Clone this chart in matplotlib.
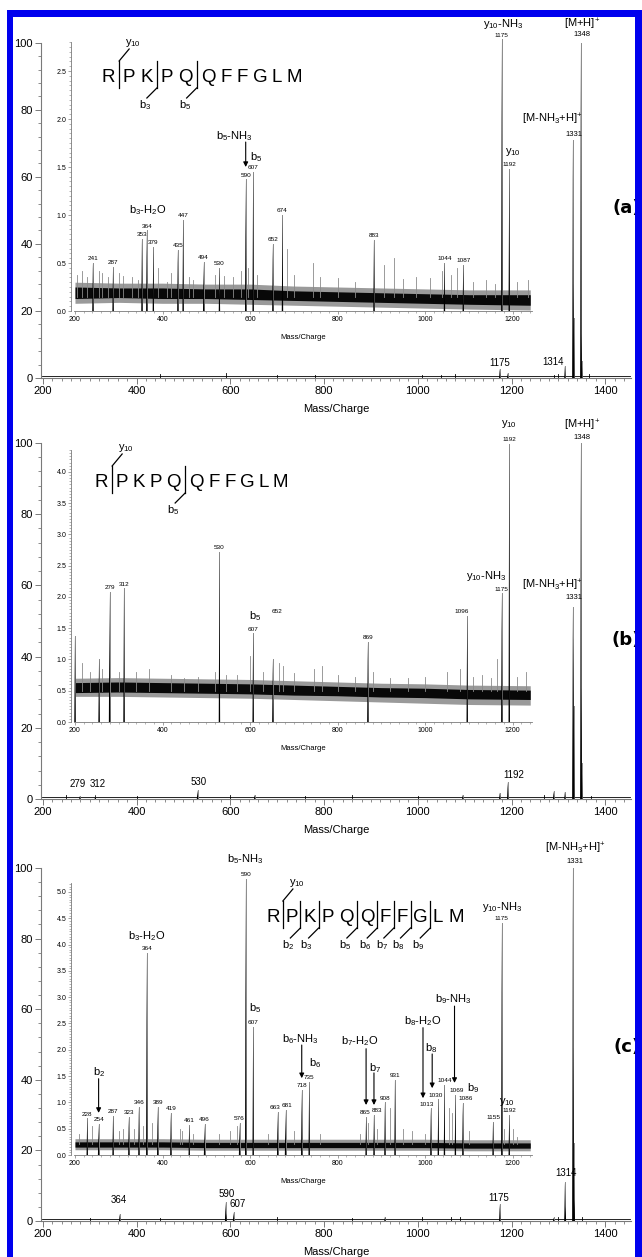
import matplotlib
matplotlib.use("Agg")
import matplotlib.pyplot as plt
from matplotlib.patches import Rectangle
from matplotlib.lines import Line2D
from matplotlib.ticker import MultipleLocator, FormatStrFormatter
from matplotlib.textpath import TextPath
from matplotlib.font_manager import FontProperties

plt.rcParams['font.family'] = ['Liberation Sans', 'DejaVu Sans']
plt.rcParams['mathtext.default'] = 'regular'

# ======================= DATA =======================
SEQUENCE = "RPKPQQFFGLM"

# ---- panel (a) ----
A_MAIN_MZ = [1175, 1192, 1314, 1331, 1332, 1333, 1348, 1349, 1350]
A_MAIN_INT = [2.8, 1.5, 3.6, 71, 28, 18, 100, 13, 5]
A_MAIN_MINOR_MZ = [450, 590, 700, 780, 1010, 1050, 1080, 1290, 1300, 1365]
A_MAIN_MINOR_INT = [1.2, 1.5, 1.0, 1.0, 0.9, 1.0, 1.1, 1.0, 1.2, 1.3]
A_INS_MZ = [241, 287, 353, 364, 379, 435, 447, 494, 530, 590, 607, 652, 674, 883, 1044, 1087, 1175, 1192]
A_INS_INT = [0.50, 0.46, 0.75, 0.84, 0.67, 0.64, 0.95, 0.51, 0.45, 1.37, 1.45, 0.70, 1.00, 0.74, 0.50, 0.48, 2.83, 1.48]
A_MINOR_MZ = [205, 215, 228, 255, 262, 275, 300, 310, 330, 345, 390, 410, 420, 460, 470, 520, 540, 560,
              580, 596, 616, 685, 700, 744, 760, 800, 840, 905, 928, 950, 980, 1010, 1039, 1060, 1073,
              1110, 1140, 1160, 1210, 1235]
A_MINOR_INT = [0.38, 0.42, 0.35, 0.42, 0.40, 0.35, 0.40, 0.36, 0.35, 0.32, 0.45, 0.30, 0.40, 0.35, 0.32,
               0.38, 0.36, 0.35, 0.42, 0.45, 0.38, 0.65, 0.38, 0.50, 0.35, 0.34, 0.30, 0.48, 0.55, 0.33,
               0.35, 0.34, 0.42, 0.38, 0.45, 0.30, 0.32, 0.28, 0.30, 0.32]
A_NOISE_MZ = [200, 300, 400, 500, 600, 700, 800, 900, 1000, 1100, 1240]
A_NOISE_LO = [0.13, 0.14, 0.13, 0.13, 0.12, 0.11, 0.10, 0.09, 0.08, 0.07, 0.06]
A_NOISE_HI = [0.25, 0.24, 0.24, 0.23, 0.23, 0.21, 0.20, 0.19, 0.18, 0.17, 0.17]
A_SPREAD_LO = [0.08, 0.09, 0.08, 0.08, 0.07, 0.06, 0.05, 0.04, 0.03, 0.02, 0.01]
A_SPREAD_HI = [0.30, 0.29, 0.29, 0.28, 0.28, 0.26, 0.25, 0.24, 0.23, 0.22, 0.22]

# ---- panel (b) ----
B_MAIN_MZ = [279, 312, 530, 652, 1096, 1175, 1192, 1290, 1314, 1331, 1332, 1333, 1348, 1349, 1350]
B_MAIN_INT = [0.8, 1.2, 2.5, 1.2, 1.2, 1.8, 4.8, 2.2, 2.0, 54, 45, 26, 100, 31, 10]
B_MAIN_MINOR_MZ = [250, 400, 600, 760, 860, 1000, 1270, 1370]
B_MAIN_MINOR_INT = [1.0, 0.9, 1.0, 0.9, 1.0, 0.9, 1.2, 0.9]
B_INS_MZ = [200, 255, 279, 312, 530, 607, 652, 869, 1096, 1175, 1192]
B_INS_INT = [1.38, 1.00, 2.08, 2.14, 2.72, 1.42, 1.00, 1.28, 1.70, 2.06, 4.45]
B_MINOR_MZ = [215, 235, 262, 300, 340, 370, 420, 450, 480, 520, 545, 570, 600, 630, 665, 675, 700,
              745, 765, 800, 840, 880, 920, 960, 1000, 1050, 1080, 1110, 1130, 1150, 1165, 1210, 1230]
B_MINOR_INT = [0.95, 0.80, 0.85, 0.80, 0.80, 0.85, 0.75, 0.70, 0.72, 0.80, 0.75, 0.75, 1.05, 0.80, 0.95,
               0.90, 0.78, 0.85, 0.90, 0.75, 0.72, 0.80, 0.70, 0.70, 0.72, 0.80, 0.85, 0.72, 0.75, 0.70,
               1.00, 0.72, 0.80]
B_NOISE_MZ = [200, 300, 400, 500, 600, 700, 800, 900, 1000, 1100, 1240]
B_NOISE_LO = [0.47, 0.48, 0.47, 0.46, 0.45, 0.43, 0.42, 0.40, 0.39, 0.37, 0.36]
B_NOISE_HI = [0.63, 0.64, 0.63, 0.62, 0.61, 0.59, 0.57, 0.55, 0.54, 0.52, 0.51]
B_SPREAD_LO = [0.41, 0.41, 0.40, 0.39, 0.38, 0.36, 0.34, 0.32, 0.30, 0.28, 0.27]
B_SPREAD_HI = [0.70, 0.71, 0.70, 0.69, 0.68, 0.66, 0.64, 0.62, 0.61, 0.59, 0.58]

# ---- panel (c) ----
C_MAIN_MZ = [364, 590, 591, 607, 930, 1175, 1290, 1314, 1315, 1331, 1332, 1333, 1334]
C_MAIN_INT = [2.0, 5.4, 2.0, 2.5, 1.2, 4.8, 1.0, 11, 4, 100, 49, 22, 6]
C_MAIN_MINOR_MZ = [300, 450, 700, 860, 1010, 1070, 1090, 1300, 1350]
C_MAIN_MINOR_INT = [0.9, 0.9, 1.0, 0.9, 1.0, 1.2, 1.0, 1.1, 1.0]
C_INS_MZ = [228, 254, 287, 323, 346, 364, 389, 419, 461, 496, 576, 590, 607, 663, 681, 718, 735,
            865, 883, 908, 931, 1013, 1030, 1044, 1069, 1086, 1155, 1175, 1192]
C_INS_INT = [0.70, 0.59, 0.74, 0.72, 0.91, 3.84, 0.92, 0.80, 0.57, 0.59, 0.61, 5.25, 2.43, 0.82, 0.86,
             1.24, 1.39, 0.72, 0.76, 1.00, 1.43, 0.89, 1.06, 1.33, 1.14, 0.99, 0.63, 4.41, 0.76]
C_MINOR_MZ = [210, 240, 300, 310, 335, 355, 375, 440, 445, 470, 530, 555, 570, 640, 700, 760, 850,
              870, 890, 920, 950, 970, 1000, 1055, 1062, 1100, 1180, 1200, 1210]
C_MINOR_INT = [0.40, 0.55, 0.45, 0.50, 0.50, 0.55, 0.60, 0.50, 0.45, 0.40, 0.40, 0.45, 0.55, 0.40, 0.45,
               0.40, 0.40, 0.60, 0.50, 0.90, 0.50, 0.45, 0.40, 0.90, 0.80, 0.45, 0.50, 0.50, 0.35]
C_NOISE_MZ = [200, 300, 400, 500, 600, 700, 800, 900, 1000, 1100, 1240]
C_NOISE_LO = [0.15, 0.15, 0.15, 0.14, 0.14, 0.14, 0.14, 0.14, 0.14, 0.13, 0.13]
C_NOISE_HI = [0.25, 0.25, 0.25, 0.24, 0.24, 0.24, 0.24, 0.24, 0.24, 0.23, 0.23]
C_SPREAD_LO = [0.10, 0.10, 0.10, 0.09, 0.09, 0.09, 0.09, 0.09, 0.09, 0.08, 0.08]
C_SPREAD_HI = [0.31, 0.31, 0.31, 0.30, 0.30, 0.30, 0.30, 0.30, 0.30, 0.29, 0.29]

# ======================= LAYOUT (pixels) =======================
W, H = 642, 1257
fig = plt.figure(figsize=(W / 100, H / 100), dpi=100)
fig.patch.set_facecolor('white')

PEAK_GREY = '#8a8a8a'
AXIS_GREY = '#7a7a7a'


def fx(x):
    return x / W


def fy(y):
    return 1 - y / H


def px_axes(left, top, right, bottom):
    return fig.add_axes([left / W, 1 - bottom / H, (right - left) / W, (bottom - top) / H])


def setup_main(ax):
    ax.set_xlim(196, 1455)
    ax.set_ylim(0, 100)
    ax.patch.set_alpha(0)
    for s in ['top', 'right']:
        ax.spines[s].set_visible(False)
    for s in ['left', 'bottom']:
        ax.spines[s].set_color(AXIS_GREY)
        ax.spines[s].set_linewidth(0.8)
    ax.xaxis.set_major_locator(MultipleLocator(200))
    ax.xaxis.set_minor_locator(MultipleLocator(20))
    ax.yaxis.set_major_locator(MultipleLocator(20))
    ax.yaxis.set_minor_locator(MultipleLocator(4))
    ax.tick_params(which='major', length=4.5, width=0.7, color=AXIS_GREY, labelsize=8, pad=1.5)
    ax.tick_params(which='minor', length=2.5, width=0.6, color=AXIS_GREY)
    ax.set_xlabel('Mass/Charge', fontsize=8, labelpad=5.5)


def setup_inset(ax, ytop):
    ax.set_xlim(198, 1244)
    ax.set_ylim(0, ytop)
    ax.patch.set_alpha(0)
    for s in ['top', 'right']:
        ax.spines[s].set_visible(False)
    for s in ['left', 'bottom']:
        ax.spines[s].set_color(AXIS_GREY)
        ax.spines[s].set_linewidth(0.6)
    ax.spines['left'].set_position(('outward', 2.2))
    ax.xaxis.set_major_locator(MultipleLocator(200))
    ax.xaxis.set_minor_locator(MultipleLocator(20))
    ax.yaxis.set_major_locator(MultipleLocator(0.5))
    ax.yaxis.set_minor_locator(MultipleLocator(0.05))
    ax.yaxis.set_major_formatter(FormatStrFormatter('%.1f'))
    ax.tick_params(which='major', length=2.5, width=0.5, color=AXIS_GREY, labelsize=5, pad=1)
    ax.tick_params(which='minor', length=1.3, width=0.4, color=AXIS_GREY)
    ax.set_xlabel('Mass/Charge', fontsize=5.5, labelpad=8)


def draw_peaks(ax, mz, inten, w):
    for m, v in zip(mz, inten):
        ax.add_line(Line2D([m, m], [0, v], color=PEAK_GREY, lw=0.7, clip_on=False, zorder=3))
        ax.fill([m - w, m, m + w], [0, v, 0], color='black', lw=0, zorder=3.1, clip_on=False)


def draw_minor(ax, mz, inten, base):
    for m, v in zip(mz, inten):
        ax.add_line(Line2D([m, m], [base, v], color=PEAK_GREY, lw=0.6, zorder=2))


def draw_noise(ax, mz, lo, hi, slo, shi):
    ax.fill_between(mz, slo, shi, color='#9a9a9a', lw=0, zorder=1.5)
    ax.fill_between(mz, lo, hi, color='#080808', lw=0, zorder=1.8)


def num_labels(ax, mz, inten, size=4.6, skip=(), xshift=None):
    xshift = xshift or {}
    for m, v in zip(mz, inten):
        if m in skip:
            continue
        ax.annotate(str(m), (m + xshift.get(m, 0), v), xytext=(0, 1.2), textcoords='offset points',
                    ha='center', va='bottom', fontsize=size, zorder=5, annotation_clip=False)


def ion(ax, text, x, y, size=8, ha='center'):
    ax.text(x, y, text, ha=ha, va='center', fontsize=size, zorder=6, clip_on=False)


def arrow(ax, x, y0, y1):
    ax.annotate('', xy=(x, y1), xytext=(x, y0),
                arrowprops=dict(arrowstyle='-|>', color='black', lw=0.8, mutation_scale=7,
                                shrinkA=0, shrinkB=0), annotation_clip=False, zorder=6)


SEQ_FONT = FontProperties(family='Liberation Sans')


def ink_width(ch, size_pt):
    return TextPath((0, 0), ch, size=size_pt * 100 / 72, prop=SEQ_FONT).get_extents().width


def draw_sequence(x_start, yc, cuts, gap, bar_gap, size=13.5):
    cut_after = {idx: (kind, lab) for kind, idx, lab in cuts}
    cap = size * 100 / 72 * 0.716
    top, bot = yc - 14, yc + 13
    x = x_start
    for i, ch in enumerate(SEQUENCE):
        w = ink_width(ch, size)
        fig.text(fx(x + w / 2), fy(yc + cap / 2), ch, ha='center', va='baseline', fontsize=size,
                 family='Liberation Sans')
        step = bar_gap if (i + 1) in cut_after else gap
        if (i + 1) in cut_after:
            kind, lab = cut_after[i + 1]
            xb = x + w + step / 2
            fig.add_artist(Line2D([fx(xb), fx(xb)], [fy(top), fy(bot)], color='black', lw=0.9))
            if kind == 'y':
                fig.add_artist(Line2D([fx(xb), fx(xb + 10)], [fy(top), fy(top - 12)], color='black', lw=0.9))
                fig.text(fx(xb + 14), fy(top - 18), lab, ha='center', va='center', fontsize=8)
            else:
                fig.add_artist(Line2D([fx(xb), fx(xb - 10)], [fy(bot), fy(bot + 10)], color='black', lw=0.9))
                fig.text(fx(xb - 12), fy(bot + 17), lab, ha='center', va='center', fontsize=8)
        x += w + step


def main_baseline(ax, mz, inten):
    ax.plot([198, 1452], [0.6, 0.6], color='black', lw=0.6, zorder=2)
    for m, v in zip(mz, inten):
        ax.add_line(Line2D([m, m], [0, v], color='black', lw=0.6, zorder=2))


# ---------------- panel (a) ----------------
axA = px_axes(41, 42.7, 631, 378)
setup_main(axA)
main_baseline(axA, A_MAIN_MINOR_MZ, A_MAIN_MINOR_INT)
draw_peaks(axA, A_MAIN_MZ, A_MAIN_INT, 1.5)
axA.text(1175, 4.5, '1175', ha='center', va='center', fontsize=7)
axA.text(1312, 4.8, '1314', ha='right', va='center', fontsize=7)
ion(axA, '[M+H]$^{+}$', 1350, 105.5)
axA.text(1350, 102.3, '1348', ha='center', va='center', fontsize=5.5, clip_on=False)
ion(axA, '[M-NH$_{3}$+H]$^{+}$', 1352, 77, ha='right')
axA.text(1352, 72.5, '1331', ha='right', va='center', fontsize=5.5)

insA = px_axes(74.1, 42.2, 532, 311)
setup_inset(insA, 2.8)
draw_noise(insA, A_NOISE_MZ, A_NOISE_LO, A_NOISE_HI, A_SPREAD_LO, A_SPREAD_HI)
draw_minor(insA, A_MINOR_MZ, A_MINOR_INT, 0.15)
draw_peaks(insA, A_INS_MZ, A_INS_INT, 1.6)
num_labels(insA, A_INS_MZ, A_INS_INT)
ion(insA, 'b$_{3}$-H$_{2}$O', 367, 1.05)
ion(insA, 'b$_{5}$-NH$_{3}$', 565, 1.82)
arrow(insA, 590, 1.76, 1.50)
ion(insA, 'b$_{5}$', 613, 1.60)
ion(insA, 'y$_{10}$', 1200, 1.66)
ion(insA, 'y$_{10}$-NH$_{3}$', 1178, 2.99)
draw_sequence(103, 75, [('y', 1, 'y$_{10}$'), ('b', 3, 'b$_{3}$'), ('b', 5, 'b$_{5}$')],
              gap=7, bar_gap=10)
fig.text(fx(641), fy(208), '(a)', ha='right', va='center', fontsize=13, fontweight='bold',
         family='DejaVu Sans')

# ---------------- panel (b) ----------------
axB = px_axes(41, 443, 631, 799)
setup_main(axB)
main_baseline(axB, B_MAIN_MINOR_MZ, B_MAIN_MINOR_INT)
draw_peaks(axB, B_MAIN_MZ, B_MAIN_INT, 1.5)
for t, x, y in [('279', 275, 4.2), ('312', 317, 4.2), ('530', 532, 4.9), ('1192', 1205, 6.7)]:
    axB.text(x, y, t, ha='center', va='center', fontsize=7)
ion(axB, '[M+H]$^{+}$', 1350, 105)
axB.text(1350, 101.6, '1348', ha='center', va='center', fontsize=5.5, clip_on=False)
ion(axB, '[M-NH$_{3}$+H]$^{+}$', 1352, 60, ha='right')
axB.text(1352, 56.7, '1331', ha='right', va='center', fontsize=5.5)

insB = px_axes(74.1, 450, 532, 722)
setup_inset(insB, 4.35)
draw_noise(insB, B_NOISE_MZ, B_NOISE_LO, B_NOISE_HI, B_SPREAD_LO, B_SPREAD_HI)
draw_minor(insB, B_MINOR_MZ, B_MINOR_INT, 0.5)
draw_peaks(insB, B_INS_MZ, B_INS_INT, 1.6)
num_labels(insB, B_INS_MZ, B_INS_INT, skip=(200, 255, 652), xshift={1096: -12})
insB.text(662, 1.76, '652', ha='center', va='center', fontsize=4.6)
ion(insB, 'b$_{5}$', 611, 1.70)
ion(insB, 'y$_{10}$', 1192, 4.77)
ion(insB, 'y$_{10}$-NH$_{3}$', 1185, 2.34, ha='right')
draw_sequence(96, 480, [('y', 1, 'y$_{10}$'), ('b', 5, 'b$_{5}$')], gap=6.5, bar_gap=10)
fig.text(fx(641), fy(640), '(b)', ha='right', va='center', fontsize=13, fontweight='bold',
         family='DejaVu Sans')

# ---------------- panel (c) ----------------
axC = px_axes(41, 868, 631, 1221)
setup_main(axC)
main_baseline(axC, C_MAIN_MINOR_MZ, C_MAIN_MINOR_INT)
draw_peaks(axC, C_MAIN_MZ, C_MAIN_INT, 1.5)
for t, x, y in [('364', 362, 6.0), ('590', 593, 7.6), ('607', 615, 4.8), ('1175', 1173, 6.4),
                ('1314', 1317, 13.6)]:
    axC.text(x, y, t, ha='center', va='center', fontsize=7)
ion(axC, '[M-NH$_{3}$+H]$^{+}$', 1336, 105.7)
axC.text(1336, 101.7, '1331', ha='center', va='center', fontsize=5.5, clip_on=False)

insC = px_axes(74.1, 883, 532, 1155)
setup_inset(insC, 5.17)
draw_noise(insC, C_NOISE_MZ, C_NOISE_LO, C_NOISE_HI, C_SPREAD_LO, C_SPREAD_HI)
draw_minor(insC, C_MINOR_MZ, C_MINOR_INT, 0.2)
draw_peaks(insC, C_INS_MZ, C_INS_INT, 1.6)
num_labels(insC, C_INS_MZ, C_INS_INT,
           xshift={1013: -10, 1030: -6, 663: -6, 681: 4, 865: -3, 883: 6, 1069: 2, 1086: 6})
for t, x, y in [('b$_{5}$-NH$_{3}$', 590, 5.62), ('b$_{3}$-H$_{2}$O', 364, 4.16), ('b$_{5}$', 611, 2.80),
                ('b$_{6}$-NH$_{3}$', 716, 2.20), ('b$_{6}$', 748, 1.74), ('b$_{7}$-H$_{2}$O', 850, 2.16),
                ('b$_{7}$', 885, 1.66), ('b$_{8}$-H$_{2}$O', 995, 2.54), ('b$_{8}$', 1014, 2.04),
                ('b$_{9}$-NH$_{3}$', 1065, 2.96), ('b$_{9}$', 1110, 1.28), ('y$_{10}$', 1187, 1.01),
                ('y$_{10}$-NH$_{3}$', 1175, 4.72), ('b$_{2}$', 254, 1.57)]:
    ion(insC, t, x, y)
for x, y0, y1 in [(254, 1.45, 0.80), (718, 2.09, 1.46), (865, 2.02, 0.95), (883, 1.56, 0.95),
                  (995, 2.42, 1.08), (1016, 1.92, 1.27), (1067, 2.83, 1.37)]:
    arrow(insC, x, y0, y1)
draw_sequence(268, 915,
              [('y', 1, 'y$_{10}$'), ('b', 2, 'b$_{2}$'), ('b', 3, 'b$_{3}$'), ('b', 5, 'b$_{5}$'),
               ('b', 6, 'b$_{6}$'), ('b', 7, 'b$_{7}$'), ('b', 8, 'b$_{8}$'), ('b', 9, 'b$_{9}$')],
              gap=8, bar_gap=7.5)
fig.text(fx(641), fy(1047), '(c)', ha='right', va='center', fontsize=13, fontweight='bold',
         family='DejaVu Sans')

# ---------------- blue frame ----------------
BLUE = '#0000ee'
for (x0, y0, x1, y1) in [(7, 10, 642, 16.5), (7, 10, 12.5, 1260), (635, 10, 642, 1260)]:
    fig.add_artist(Rectangle((fx(x0), fy(y1)), (x1 - x0) / W, (y1 - y0) / H,
                             transform=fig.transFigure, color=BLUE, lw=0, zorder=20))

fig.savefig('out.png', dpi=100, facecolor='white')
